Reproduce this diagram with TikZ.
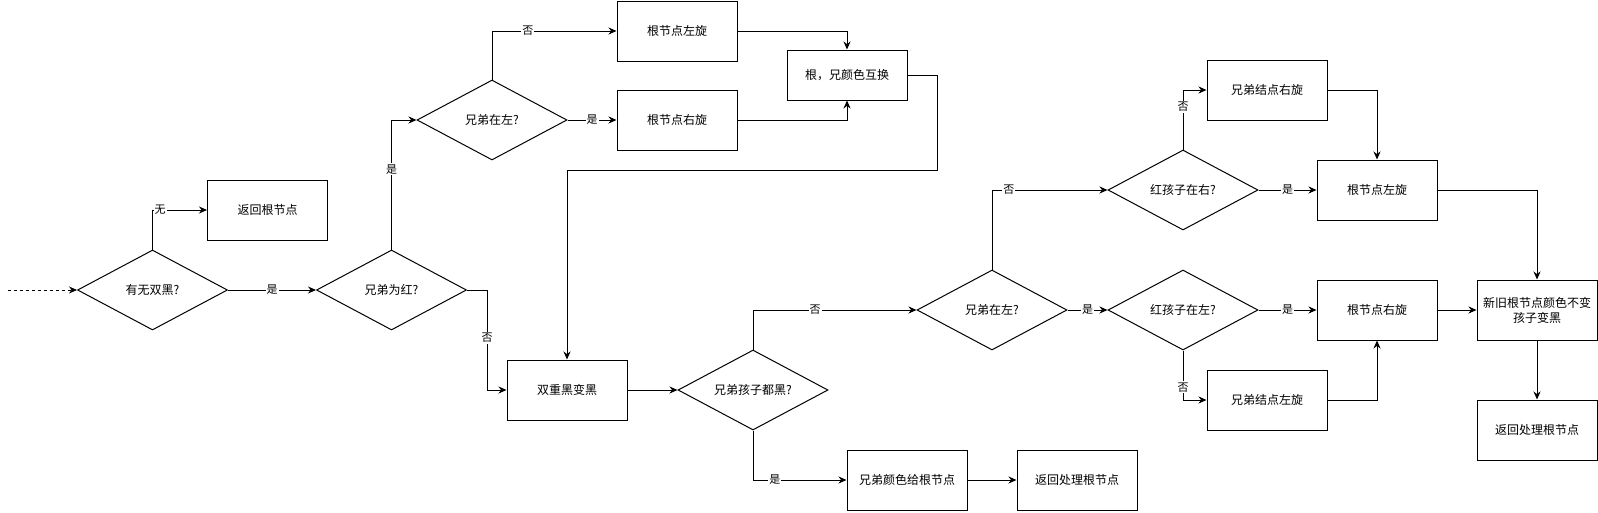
\documentclass[tikz,border=0pt]{standalone}
\usepackage{fontspec}
\setmainfont{Noto Sans CJK SC}
\usetikzlibrary{positioning,calc,arrows.meta,shapes.geometric}
\tikzset{font=\fontsize{12}{15}\selectfont}

\begin{document}
\begin{tikzpicture}[x=1pt, y=-1pt, line width=1pt]
	\useasboundingbox (0, 0) rectangle (1598, 512);
	\begin{scope}
		\tikzstyle{every node}=[align=center, inner sep=0pt]
		\tikzstyle{proc}=[draw, rectangle, minimum width=120pt, minimum height=60pt]
		\tikzstyle{cond}=[draw, diamond, aspect=1.875, minimum width=150pt, minimum height=80pt]
		\tikzstyle{lbl}=[fill=white, inner sep=1pt, font=\fontsize{11}{13}\selectfont]
		\tikzstyle{arr}=[-{Stealth[length=8pt, width=7pt]}]

		\coordinate (in) at (8, 290);
		\node[cond] (dbl) at (152.5, 290) {有无双黑?};
		\node[proc] (retroot) at (267.5, 210) {返回根节点};
		\node[cond] (sibred) at (391.5, 290) {兄弟为红?};

		\node[cond] (sibleftA) at (492, 120) {兄弟在左?};
		\node[proc] (rotlA) at (677, 31) {根节点左旋};
		\node[proc] (rotrA) at (677, 120) {根节点右旋};
		\node[proc, minimum height=50pt] (swap) at (847, 75) {根，兄颜色互换};
		\coordinate (bend) at (937, 170);

		\node[proc] (toblack) at (567, 390) {双重黑变黑};
		\node[cond] (kidsblack) at (753, 390) {兄弟孩子都黑?};
		\node[proc] (givecol) at (907, 480) {兄弟颜色给根节点};
		\node[proc] (retupA) at (1077, 480) {返回处理根节点};

		\node[cond] (sibleftB) at (992, 310) {兄弟在左?};
		\node[cond] (redright) at (1183, 190) {红孩子在右?};
		\node[cond] (redleft) at (1183, 310) {红孩子在左?};
		\node[proc] (sibrotr) at (1267, 90) {兄弟结点右旋};
		\node[proc] (rotlB) at (1377, 190) {根节点左旋};
		\node[proc] (rotrB) at (1377, 310) {根节点右旋};
		\node[proc] (sibrotl) at (1267, 400) {兄弟结点左旋};
		\node[proc] (recolor) at (1537, 310) {新旧根节点颜色不变\\孩子变黑};
		\node[proc] (retupB) at (1537, 430) {返回处理根节点};

		% left part
		\draw [arr, dashed] (in) to (dbl.west);
		\draw [arr] (dbl.north) |- node[lbl, pos=0.57] (l1) {无} (retroot.west);
		\draw [arr] (dbl.east) to node[lbl] (l2) {是} (sibred.west);
		\draw [arr] (sibred.north) |- node[lbl, pos=0.31] (l3) {是} (sibleftA.west);
		\draw [arr] (sibred.east) -- ++(20, 0) |- node[lbl, pos=0.24] (l4) {否} (toblack.west);

		% sibling red
		\draw [arr] (sibleftA.north) |- node[lbl, pos=0.644] (l5) {否} (rotlA.west);
		\draw [arr] (sibleftA.east) to node[lbl] (l6) {是} (rotrA.west);
		\draw [arr] (rotlA.east) -| (swap.north);
		\draw [arr] (rotrA.east) -| (swap.south);
		\draw [arr] (swap.east) -| (bend) -| (toblack.north);

		% sibling black
		\draw [arr] (toblack.east) to (kidsblack.west);
		\draw [arr] (kidsblack.south) |- node[lbl, pos=0.617] (l7) {是} (givecol.west);
		\draw [arr] (givecol.east) to (retupA.west);
		\draw [arr] (kidsblack.north) |- node[lbl, pos=0.69] (l8) {否} (sibleftB.west);

		\draw [arr] (sibleftB.north) |- node[lbl, pos=0.573] (l9) {否} (redright.west);
		\draw [arr] (sibleftB.east) to node[lbl] (l10) {是} (redleft.west);
		\draw [arr] (redright.north) |- node[lbl, pos=0.358] (l11) {否} (sibrotr.west);
		\draw [arr] (redright.east) to node[lbl] (l12) {是} (rotlB.west);
		\draw [arr] (sibrotr.east) -| (rotlB.north);
		\draw [arr] (redleft.east) to node[lbl] (l13) {是} (rotrB.west);
		\draw [arr] (redleft.south) |- node[lbl, pos=0.37] (l14) {否} (sibrotl.west);
		\draw [arr] (sibrotl.east) -| (rotrB.south);

		\draw [arr] (rotlB.east) -| (recolor.north);
		\draw [arr] (rotrB.east) to (recolor.west);
		\draw [arr] (recolor.south) to (retupB.north);
	\end{scope}
\end{tikzpicture}
\end{document}
